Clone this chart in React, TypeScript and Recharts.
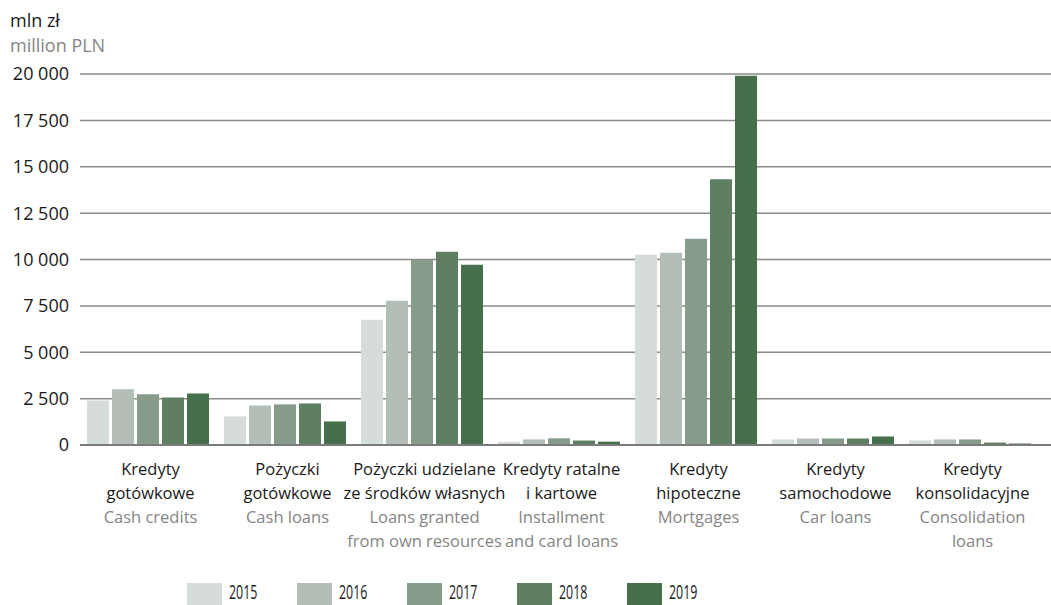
import { BarChart, Bar, XAxis, YAxis, CartesianGrid, ReferenceLine } from "recharts"

const categories = ["cash", "cashLoans", "ownRes", "install", "mortg", "car", "consol"]
const labelsPl = [
  ["Kredyty", "gotówkowe"],
  ["Pożyczki", "gotówkowe"],
  ["Pożyczki udzielane", "ze środków własnych"],
  ["Kredyty ratalne", "i kartowe"],
  ["Kredyty", "hipoteczne"],
  ["Kredyty", "samochodowe"],
  ["Kredyty", "konsolidacyjne"],
]
const labelsEn = [
  ["Cash credits"],
  ["Cash loans"],
  ["Loans granted", "from own resources"],
  ["Installment", "and card loans"],
  ["Mortgages"],
  ["Car loans"],
  ["Consolidation", "loans"],
]

const years = ["2015", "2016", "2017", "2018", "2019"]
const v2015 = [2400, 1540, 6750, 170, 10260, 300, 250]
const v2016 = [3000, 2130, 7770, 300, 10360, 350, 300]
const v2017 = [2730, 2190, 9980, 360, 11120, 350, 300]
const v2018 = [2560, 2240, 10420, 240, 14320, 350, 130]
const v2019 = [2780, 1270, 9720, 180, 19900, 460, 80]
const yTicks = [0, 2500, 5000, 7500, 10000, 12500, 15000, 17500, 20000]

const colors = ["#d6dcd8", "#b3beb6", "#879b8a", "#5f7f63", "#45704b"]
const series = [v2015, v2016, v2017, v2018, v2019]

const data = categories.map((c, i) => {
  const row: Record<string, string | number> = { cat: c }
  years.forEach((y, k) => { row[y] = series[k][i] })
  return row
})

const FONT = "'Open Sans', sans-serif"

const fmt = (v: number) => String(v).replace(/\B(?=(\d{3})+(?!\d))/g, " ")

function CatTick({ x, y, payload }: any) {
  const i = categories.indexOf(payload.value)
  const pl = labelsPl[i] || []
  const en = labelsEn[i] || []
  return (
    <g>
      {pl.map((t, k) => (
        <text key={"p" + k} x={x + 2} y={y + 22 + k * 24} textAnchor="middle" fontSize={16.5} fill="#1a1a1a" fontFamily={FONT}>{t}</text>
      ))}
      {en.map((t, k) => (
        <text key={"e" + k} x={x + 2} y={y + 70 + k * 24} textAnchor="middle" fontSize={16.5} fill="#858585" fontFamily={FONT}>{t}</text>
      ))}
    </g>
  )
}

export default function App() {
  return (
    <div style={{ position: "absolute", left: 0, top: 0, width: 1051, height: 605, background: "#fff", fontFamily: FONT }}>
      <div style={{ position: "absolute", left: 10, top: 8, fontSize: 18, color: "#1a1a1a", lineHeight: "24px" }}>mln zł</div>
      <div style={{ position: "absolute", left: 10, top: 33, fontSize: 18, color: "#858585", lineHeight: "24px" }}>million PLN</div>
      <BarChart width={1051} height={605} data={data} margin={{ top: 74, right: 0, left: 0, bottom: 0 }} barGap={3} barCategoryGap={7}>
        <CartesianGrid vertical={false} stroke="#8a8a8a" strokeWidth={1.5} />
        <XAxis dataKey="cat" height={160} axisLine={false} tickLine={false} interval={0} tick={<CatTick />} padding={{ left: 0, right: 12 }} />
        <YAxis
          width={80}
          domain={[0, 20000]}
          ticks={yTicks}
          axisLine={false}
          tickLine={false}
          tickMargin={5}
          tick={{ fontSize: 18, fill: "#1a1a1a", fontFamily: FONT }}
          tickFormatter={(v) => fmt(v)}
        />
        {years.map((y, k) => (
          <Bar key={y} dataKey={y} fill={colors[k]} isAnimationActive={false} />
        ))}
        <ReferenceLine y={0} stroke="#7a7a7a" strokeWidth={2} />
      </BarChart>
      <svg style={{ position: "absolute", left: 0, top: 575 }} width={1051} height={30}>
        {years.map((y, k) => (
          <g key={y}>
            <rect x={187 + k * 110} y={8} width={35} height={22} fill={colors[k]} />
            <text transform={`translate(${229 + k * 110},24) scale(0.62,1)`} fontSize={20} fill="#1a1a1a" fontFamily={FONT}>{y}</text>
          </g>
        ))}
      </svg>
    </div>
  )
}
